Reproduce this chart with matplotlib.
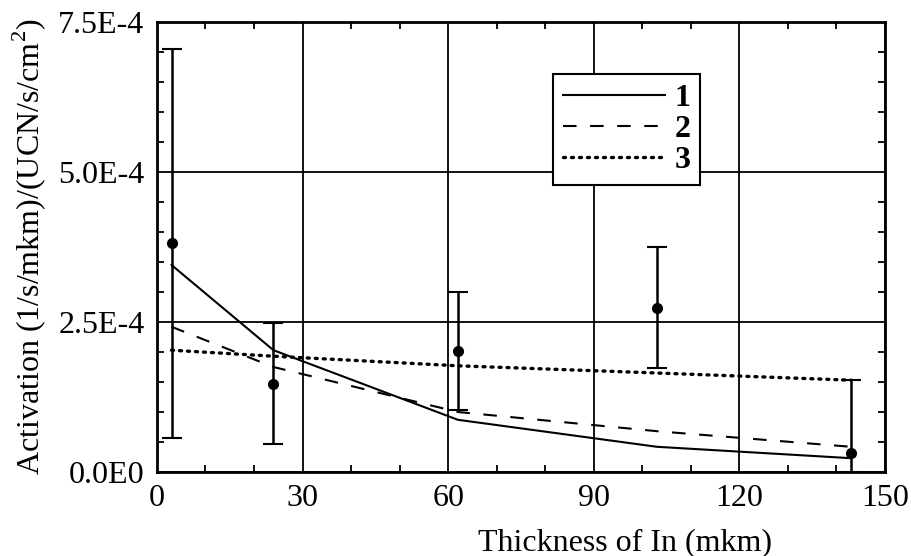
import numpy as np
import matplotlib
matplotlib.use('Agg')
from matplotlib import pyplot as plt
from matplotlib.ticker import MultipleLocator

plt.rcParams['font.family'] = ['Liberation Serif', 'DejaVu Serif']
plt.rcParams['mathtext.fontset'] = 'custom'
plt.rcParams['mathtext.rm'] = 'Liberation Serif'

# Messpunkte (Aktivierung in 1E-4)
x_meas = [3, 24, 62, 103, 143]
y_meas = [3.82, 1.47, 2.02, 2.74, 0.32]
err_lo = [0.57, 0.47, 1.03, 1.73, 0.0]
err_hi = [7.05, 2.49, 3.00, 3.75, 1.53]

# Rechnungen 1, 2, 3
x_calc = [3, 24, 62, 103, 143]
calc_1 = [3.45, 2.03, 0.87, 0.42, 0.23]
calc_2 = [2.42, 1.75, 1.00, 0.68, 0.42]
calc_3 = [2.03, 1.93, 1.77, 1.65, 1.53]

x_ticks = [0, 30, 60, 90, 120, 150]
x_ticklabels = ['0', '30', '60', '90', '120', '150']
y_ticks = [0.0, 2.5e-4, 5.0e-4, 7.5e-4]
y_ticklabels = ['0.0E0', '2.5E-4', '5.0E-4', '7.5E-4']

scale = 1e-4
y_m = np.array(y_meas) * scale
lo = y_m - np.array(err_lo) * scale
hi = np.array(err_hi) * scale - y_m

fig, ax = plt.subplots(figsize=(9.12, 5.56), dpi=100)
fig.subplots_adjust(left=0.1721, right=0.9704, top=0.9604, bottom=0.1511)

ax.plot(x_calc, np.array(calc_1) * scale, color='black', lw=1.5, ls='-', label='1')
ax.plot(x_calc, np.array(calc_2) * scale, color='black', lw=1.5, ls=(0, (6.5, 6.5)), label='2')
ax.plot(x_calc, np.array(calc_3) * scale, color='black', lw=2.4, ls=(0, (0.6, 1.8)),
        dash_capstyle='round', label='3')
ax.errorbar(x_meas, y_m, yerr=[lo, hi], fmt='o', color='black', ms=7,
            elinewidth=1.8, capsize=7, capthick=1.5)

ax.set_xlim(0, 150)
ax.set_ylim(0, 7.5e-4)
ax.set_xticks(x_ticks)
ax.set_xticklabels(x_ticklabels, fontsize=23)
ax.set_yticks(y_ticks)
ax.set_yticklabels(y_ticklabels, fontsize=23)
ax.xaxis.set_minor_locator(MultipleLocator(10))
ax.yaxis.set_minor_locator(MultipleLocator(0.5e-4))
ax.tick_params(which='both', direction='in', top=True, right=True, width=1.3)
ax.tick_params(which='major', length=0)
ax.tick_params(which='minor', length=5)
ax.tick_params(axis='x', which='major', pad=9)
ax.tick_params(axis='y', which='major', pad=9)
ax.grid(True, which='major', color='black', lw=1.3)
for sp in ax.spines.values():
    sp.set_linewidth(2)

ax.set_xlabel('Thickness of In (mkm)', fontsize=23)
ax.xaxis.set_label_coords(0.643, -0.125)
ax.set_ylabel('Activation (1/s/mkm)/(UCN/s/cm$^2$)', fontsize=23)
ax.yaxis.set_label_coords(-0.15, 0.5)

leg = ax.legend(loc='upper left', bbox_to_anchor=(0.544, 0.884), fontsize=23,
                handlelength=3.2, handletextpad=0.3, labelspacing=0.05,
                borderpad=0.3, borderaxespad=0, fancybox=False, framealpha=1,
                edgecolor='black', markerfirst=True)
leg.get_frame().set_linewidth(1.5)
for t in leg.get_texts():
    t.set_fontweight('bold')

fig.savefig('out.png', dpi=100)
